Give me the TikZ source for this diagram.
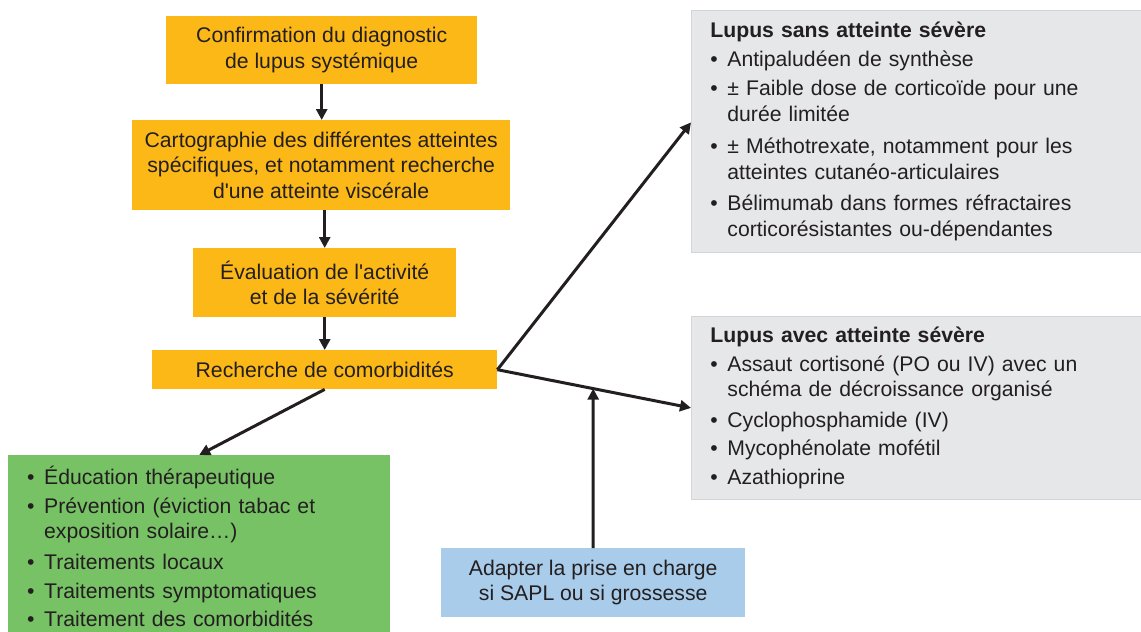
\documentclass[tikz,border=0pt]{standalone}
\usepackage{fontspec}
\setmainfont{Liberation Sans}
\usetikzlibrary{arrows.meta}
\usepackage{xcolor}

\definecolor{lorange}{HTML}{FBB817}
\definecolor{lgreen}{HTML}{78C266}
\definecolor{lblue}{HTML}{A8CCE9}
\definecolor{lgray}{HTML}{E6E7E9}
\definecolor{lgrayline}{HTML}{D3D5D7}
\definecolor{ltext}{HTML}{231F20}

\newcommand{\bul}{\makebox[17pt][l]{•}}
\newcommand{\ind}{\hspace*{17pt}}

\begin{document}
\begin{tikzpicture}[x=1pt, y=-1pt,
  every node/.style={font=\fontsize{21.2}{25.5}\selectfont, text=ltext},
  stepbox/.style={fill=lorange, anchor=north west, align=center, inner sep=0pt},
  listbox/.style={fill=lgray, draw=lgrayline, line width=0.8pt, anchor=north west,
    align=left, inner xsep=19pt, inner ysep=0pt, text width=412pt},
  flow/.style={line width=3pt, draw=ltext, -{Triangle[length=11pt,width=11pt]}}]
  \useasboundingbox (0,0) rectangle (1141,632);
  % main column
  \node[stepbox, minimum width=311pt, minimum height=68pt] (diag) at (166,16) {Confirmation du diagnostic\\de lupus systémique};
  \node[stepbox, minimum width=378pt, minimum height=90pt] (carto) at (132,120) {Cartographie des différentes atteintes\\spécifiques, et notamment recherche\\d\textquotesingle une atteinte viscérale};
  \node[stepbox, minimum width=263pt, minimum height=69pt] (eval) at (193,248) {Évaluation de l\textquotesingle activité\\et de la sévérité};
  \node[stepbox, minimum width=345pt, minimum height=39pt] (comorb) at (152,350) {Recherche de comorbidités};
  % treatments
  \node[listbox, minimum width=450pt, minimum height=242pt] (sans) at (691,10) {\textbf{Lupus sans atteinte sévère}\\[3pt]
    \bul Antipaludéen de synthèse\\[4pt]
    \bul ± Faible dose de corticoïde pour une\\\ind durée limitée\\[7pt]
    \bul ± Méthotrexate, notamment pour les\\\ind atteintes cutanéo-articulaires\\[6pt]
    \bul Bélimumab dans formes réfractaires\\\ind corticorésistantes ou-dépendantes};
  \node[listbox, minimum width=450pt, minimum height=183pt] (avec) at (691,316) {\textbf{Lupus avec atteinte sévère}\\[3pt]
    \bul Assaut cortisoné (PO ou IV) avec un\\\ind schéma de décroissance organisé\\[5pt]
    \bul Cyclophosphamide (IV)\\[3pt]
    \bul Mycophénolate mofétil\\[3pt]
    \bul Azathioprine};
  \node[fill=lgreen, anchor=north west, align=left, inner xsep=19pt, inner ysep=0pt,
    text width=344pt, minimum width=382pt, minimum height=177pt] (mesures) at (8,455) {\rule{0pt}{24pt}\bul Éducation thérapeutique\\[3pt]
    \bul Prévention (éviction tabac et\\\ind exposition solaire…)\\[5pt]
    \bul Traitements locaux\\[4pt]
    \bul Traitements symptomatiques\\[2pt]
    \bul Traitement des comorbidités};
  \node[fill=lblue, anchor=north west, align=center, inner sep=0pt,
    minimum width=304pt, minimum height=69pt] (sapl) at (441,548) {Adapter la prise en charge\\si SAPL ou si grossesse};
  % connectors
  \draw[flow] (diag.south) -- (diag.south |- carto.north);
  \draw[flow] (eval.north |- carto.south) -- (eval.north);
  \draw[flow] (eval.south) -- (comorb.north);
  \draw[flow] (comorb.east) -- ([yshift=9pt]sans.west);
  \draw[flow] (comorb.east) -- (avec.west);
  \draw[flow] (comorb.south) -- (mesures.north);
  \draw[flow] (sapl.north) -- (intersection of comorb.east--avec.west and sapl.north--sapl.south);
\end{tikzpicture}
\end{document}
